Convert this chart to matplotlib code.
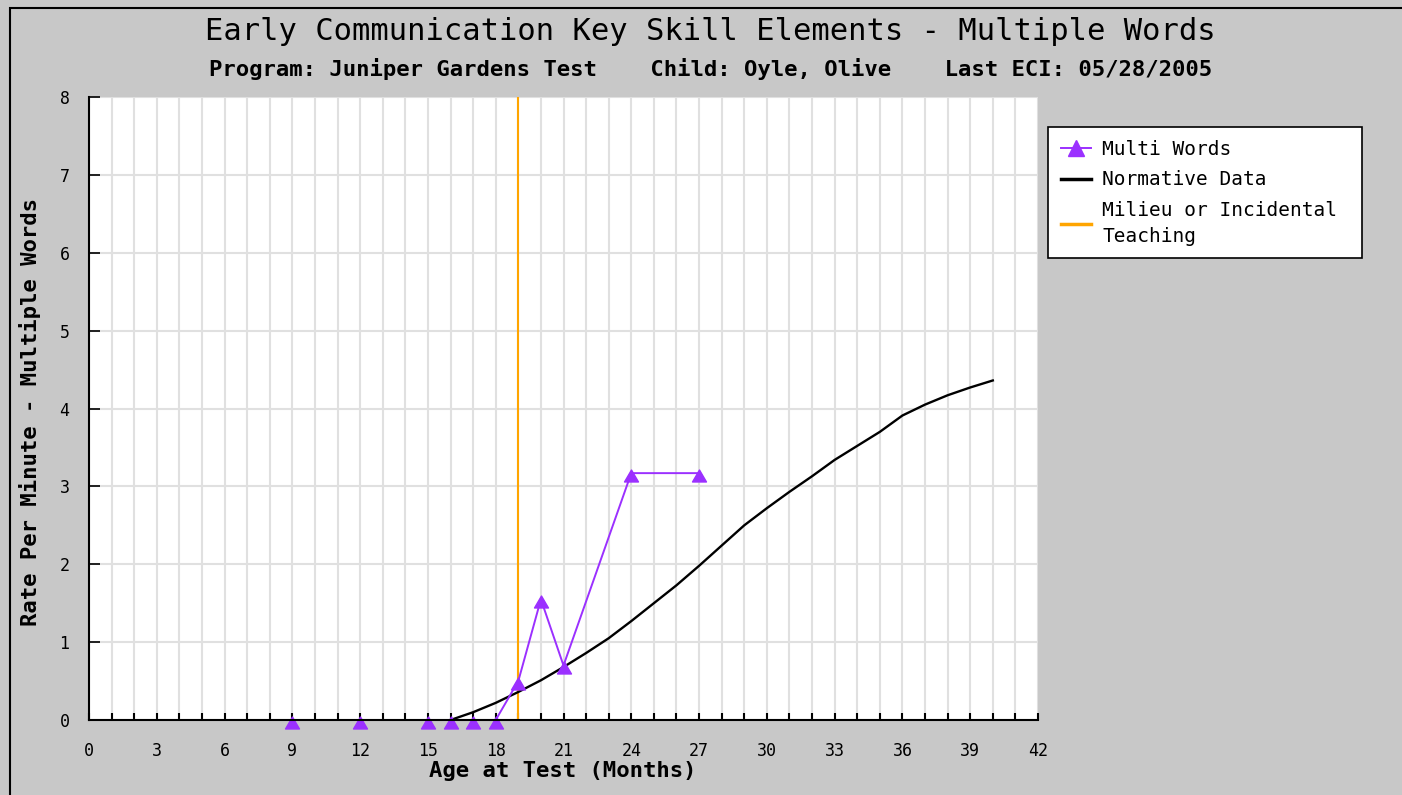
import numpy as np
import matplotlib
matplotlib.use("Agg")
import matplotlib.pyplot as plt
from matplotlib.path import Path
from matplotlib.lines import Line2D
from matplotlib.patches import Rectangle

# data
multi_age = [9, 12, 15, 16, 17, 18, 19, 20, 21, 24, 27]
multi_rate = [0, 0, 0, 0, 0, 0, 0.5, 1.55, 0.7, 3.17, 3.17]

norm_age = [16, 17, 18, 19, 20, 21, 22, 23, 24, 25, 26, 27, 28,
            29, 30, 31, 32, 33, 34, 35, 36, 37, 38, 39, 40]
norm_rate = [0, 0.1, 0.22, 0.36, 0.51, 0.68, 0.86, 1.05, 1.27, 1.5, 1.73, 1.98, 2.24,
             2.5, 2.72, 2.93, 3.13, 3.34, 3.52, 3.70, 3.91, 4.05, 4.17, 4.27, 4.36]

milieu_age = 19

x_ticks = list(range(0, 43, 3))
y_ticks = list(range(0, 9))

PURPLE = "#9b30ff"
ORANGE = "#ffa500"
BG = "#c8c8c8"
MONO = "DejaVu Sans Mono"

W, H = 1402, 795
fig = plt.figure(figsize=(W / 100, H / 100), dpi=100, facecolor=BG)

# left/top frame line of the image
fig.patches.append(Rectangle((10 / W, -0.05), 1.2, 1.05 - 8 / H, transform=fig.transFigure,
                             fill=False, edgecolor="black", lw=1.5, zorder=0))

ax = fig.add_axes([89 / W, (H - 720) / H, (1038 - 89) / W, (720 - 97) / H])
ax.set_facecolor("white")

# triangle marker sitting mostly below its point (tip a little above)
tri = Path([(0, 3.5), (-7, -8.5), (7, -8.5), (0, 3.5)],
           [Path.MOVETO, Path.LINETO, Path.LINETO, Path.CLOSEPOLY])

ax.axvline(milieu_age, color=ORANGE, lw=1.5, zorder=3)
ax.plot(norm_age, norm_rate, color="black", lw=1.7, zorder=4)
ax.plot(multi_age, multi_rate, color=PURPLE, lw=1.4, marker=tri, ms=12.2,
        markerfacecolor=PURPLE, markeredgecolor=PURPLE, clip_on=False, zorder=5)

ax.set_xlim(0, 42)
ax.set_ylim(0, 8)
ax.set_xticks(range(0, 43))
ax.set_xticklabels([str(v) if v in x_ticks else "" for v in range(0, 43)])
ax.set_yticks(y_ticks)
ax.grid(True, color="#e0e0e0", lw=1.5, zorder=0)
ax.set_axisbelow(True)

for s in ["top", "right"]:
    ax.spines[s].set_visible(False)
for s in ["left", "bottom"]:
    ax.spines[s].set_linewidth(1.5)
    ax.spines[s].set_zorder(6)

ax.tick_params(axis="x", direction="in", length=5, width=1.5, pad=16,
               labelsize=12)
ax.tick_params(axis="y", direction="in", length=8, width=1.2, pad=14,
               labelsize=12)
for lab in ax.get_xticklabels() + ax.get_yticklabels():
    lab.set_fontfamily(MONO)

fig.text(710 / W, 1 - 32 / H, "Early Communication Key Skill Elements - Multiple Words",
         ha="center", va="center", fontsize=22, family=MONO)
fig.text(711 / W, 1 - 69 / H,
         "Program: Juniper Gardens Test    Child: Oyle, Olive    Last ECI: 05/28/2005",
         ha="center", va="center", fontsize=16, family=MONO, fontweight="bold")
fig.text(563 / W, 1 - 771 / H, "Age at Test (Months)", ha="center", va="center",
         fontsize=16, family=MONO, fontweight="bold")
fig.text(30 / W, 1 - 412 / H, "Rate Per Minute - Multiple Words", ha="center",
         va="center", rotation=90, fontsize=16, family=MONO, fontweight="bold")

handles = [
    Line2D([], [], color=PURPLE, lw=1.4, marker="^", ms=11),
    Line2D([], [], color="black", lw=2.5),
    Line2D([], [], color=ORANGE, lw=2.5),
]
labels = ["Multi Words", "Normative Data", "Milieu or Incidental \nTeaching"]
leg = fig.legend(handles, labels, loc="upper left",
                 bbox_to_anchor=(1048 / W, 1 - 127 / H), bbox_transform=fig.transFigure,
                 borderaxespad=0, fancybox=False, framealpha=1, edgecolor="black",
                 prop={"family": MONO, "size": 14}, handlelength=1.55,
                 labelspacing=0.6, borderpad=0.65, handletextpad=0.6)
leg.get_frame().set_linewidth(1.2)
for t in leg.get_texts():
    t.set_linespacing(1.45)

fig.savefig("out.png", dpi=100, facecolor=BG)
